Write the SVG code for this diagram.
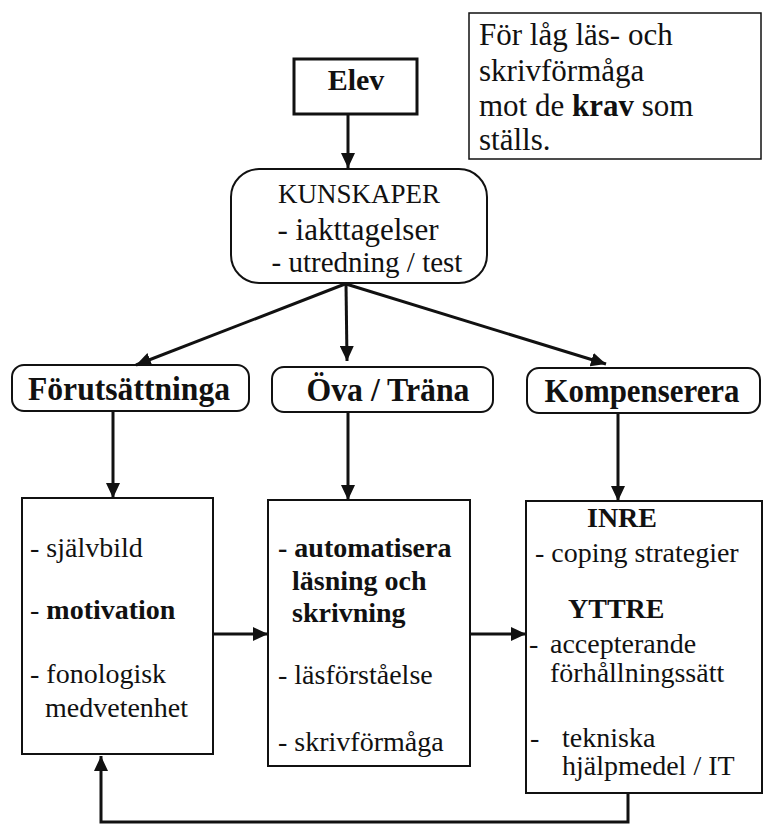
<svg xmlns="http://www.w3.org/2000/svg" width="763" height="826" viewBox="0 0 763 826">
<style>
text{font-family:'Liberation Serif','DejaVu Serif',serif;fill:#111}
.b{font-weight:bold}
.box{fill:#fff;stroke:#111;stroke-width:2}
.con{fill:none;stroke:#111;stroke-width:3}
.t27{font-size:28px}
.t30{font-size:31px}
</style>
<defs>
<marker id="ah" markerUnits="userSpaceOnUse" markerWidth="16" markerHeight="14" refX="15" refY="7" orient="auto">
<path d="M0,0 L15,7 L0,14 z" fill="#111"/>
</marker>
</defs>
<rect width="763" height="826" fill="#fff"/>
<g font-family="Liberation Serif, DejaVu Serif, serif">
<g id="note">
<rect class="box" x="469" y="13" width="292" height="146" style="stroke-width:1.5"/>
<text class="t30" x="479" y="45">För låg läs- och</text>
<text class="t30" x="479" y="81">skrivförmåga</text>
<text class="t30" x="479" y="116">mot de <tspan class="b">krav</tspan> som</text>
<text class="t30" x="479" y="150">ställs.</text>
</g>

<g id="elev">
<rect class="box" x="294" y="59" width="123" height="55" style="stroke-width:3"/>
<text class="b" x="356" y="90" text-anchor="middle" style="font-size:30px">Elev</text>
</g>

<g id="kunskaper">
<rect class="box" x="231" y="169" width="256" height="114" rx="28" ry="28"/>
<text x="359" y="203" text-anchor="middle" style="font-size:27px">KUNSKAPER</text>
<text x="358" y="240" text-anchor="middle" style="font-size:31px">- iakttagelser</text>
<text x="367" y="272" text-anchor="middle" style="font-size:29px">- utredning / test</text>
</g>

<g id="forutsattninga">
<rect class="box" x="12" y="365" width="237" height="46" rx="12" ry="12"/>
<text class="b" x="129" y="400" text-anchor="middle" textLength="202" lengthAdjust="spacingAndGlyphs" style="font-size:33px">Förutsättninga</text>
</g>

<g id="ova">
<rect class="box" x="272" y="367" width="221" height="45" rx="12" ry="12"/>
<text class="b" x="388" y="401" text-anchor="middle" textLength="163" lengthAdjust="spacingAndGlyphs" style="font-size:33px">Öva / Träna</text>
</g>

<g id="kompensera">
<rect class="box" x="527" y="368" width="233" height="45" rx="12" ry="12"/>
<text class="b" x="642" y="402" text-anchor="middle" textLength="195" lengthAdjust="spacingAndGlyphs" style="font-size:33px">Kompenserera</text>
</g>

<g id="forutsattninga-box">
<rect class="box" x="22" y="498" width="191" height="256"/>
<text class="t27" x="30" y="557">-  självbild</text>
<text class="t27" x="30" y="619">- <tspan class="b">motivation</tspan></text>
<text class="t27" x="30" y="683">- fonologisk</text>
<text class="t27" x="45" y="717">medvetenhet</text>
</g>

<g id="ova-box">
<rect class="box" x="268" y="500" width="202" height="266"/>
<text class="t27 b" x="278" y="557">- automatisera</text>
<text class="t27 b" x="292" y="590">läsning och</text>
<text class="t27 b" x="292" y="622">skrivning</text>
<text class="t27" x="278" y="684">- läsförståelse</text>
<text class="t27" x="278" y="751">- skrivförmåga</text>
</g>

<g id="kompensera-box">
<rect class="box" x="526" y="501" width="236" height="292"/>
<text class="t27 b" x="587" y="527">INRE</text>
<text class="t27" x="535" y="562">- coping strategier</text>
<text class="t27 b" x="568" y="618">YTTRE</text>
<text class="t27" x="529" y="653">-</text>
<text class="t27" x="550" y="653">accepterande</text>
<text class="t27" x="550" y="682">förhållningssätt</text>
<text class="t27" x="530" y="747">-</text>
<text class="t27" x="562" y="747">tekniska</text>
<text class="t27" x="562" y="775">hjälpmedel / IT</text>
</g>
</g>
<g id="connectors">
<line class="con" x1="348" y1="114" x2="348" y2="168" marker-end="url(#ah)"/>
<line class="con" x1="345" y1="284" x2="136" y2="365" marker-end="url(#ah)"/>
<line class="con" x1="346" y1="284" x2="347" y2="361" marker-end="url(#ah)"/>
<line class="con" x1="346" y1="284" x2="606" y2="364" marker-end="url(#ah)"/>
<line class="con" x1="113" y1="411" x2="113" y2="498" marker-end="url(#ah)"/>
<line class="con" x1="348" y1="412" x2="348" y2="500" marker-end="url(#ah)"/>
<line class="con" x1="618" y1="413" x2="618" y2="501" marker-end="url(#ah)"/>
<line class="con" x1="213" y1="634" x2="268" y2="634" marker-end="url(#ah)"/>
<line class="con" x1="470" y1="634" x2="526" y2="634" marker-end="url(#ah)"/>
<path class="con" d="M628,793 V822 H101 V756" marker-end="url(#ah)"/>
</g>
</svg>
